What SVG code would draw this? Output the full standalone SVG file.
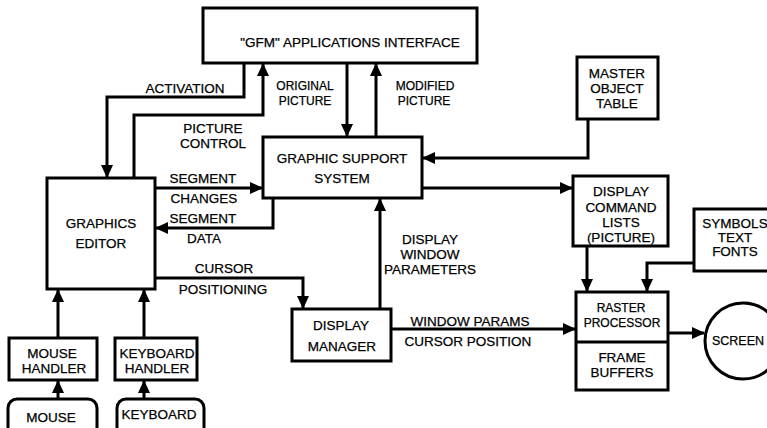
<svg xmlns="http://www.w3.org/2000/svg" width="767" height="428" viewBox="0 0 767 428">
<style>
.box{fill:#fff;stroke:#000;stroke-width:3}
.ln{fill:none;stroke:#000;stroke-width:3;marker-end:url(#ah)}
text{font-family:"Liberation Sans",Arial,sans-serif;font-size:13.5px;fill:#000;stroke:#000;stroke-width:0.25;text-anchor:middle;dominant-baseline:central}
text.s{font-size:12px}
</style>
<defs>
<marker id="ah" markerUnits="userSpaceOnUse" markerWidth="13" markerHeight="12" refX="12" refY="6" orient="auto">
<path d="M0,0 L13,6 L0,12 Z" fill="#000"/>
</marker>
</defs>
<rect width="767" height="428" fill="#fff"/>
<g id="connectors">
<path class="ln" d="M244,63 V97 H107 V177"/>
<path class="ln" d="M134,178 V115 H263 V64"/>
<path class="ln" d="M347,63 V136"/>
<path class="ln" d="M376,137 V64"/>
<path class="ln" d="M588,119 V158 H423"/>
<path class="ln" d="M155,188 H262"/>
<path class="ln" d="M273,198 V228 H156"/>
<path class="ln" d="M155,278 H303 V308"/>
<path class="ln" d="M380,309 V199"/>
<path class="ln" d="M422,188 H572"/>
<path class="ln" d="M587,246 V291"/>
<path class="ln" d="M694,263 H647 V291"/>
<path class="ln" d="M391,329 H575"/>
<path class="ln" d="M668,333 H704"/>
<path class="ln" d="M58,338 V290"/>
<path class="ln" d="M144,338 V290"/>
<path class="ln" d="M58,399 V381"/>
<path class="ln" d="M144,399 V381"/>
</g>
<g id="labels">
<text x="185" y="88">ACTIVATION</text>
<text class="s" x="305" y="86">ORIGINAL</text>
<text class="s" x="305" y="101">PICTURE</text>
<text class="s" x="425" y="86">MODIFIED</text>
<text class="s" x="424" y="101">PICTURE</text>
<text x="213" y="128">PICTURE</text>
<text x="213" y="143">CONTROL</text>
<text x="203" y="178">SEGMENT</text>
<text x="204" y="198">CHANGES</text>
<text x="203" y="218">SEGMENT</text>
<text x="204" y="238">DATA</text>
<text x="224" y="268">CURSOR</text>
<text x="223" y="289">POSITIONING</text>
<text x="430" y="239">DISPLAY</text>
<text x="430" y="254">WINDOW</text>
<text x="430" y="269">PARAMETERS</text>
<text x="470" y="321">WINDOW PARAMS</text>
<text x="468" y="341">CURSOR POSITION</text>
</g>
<g id="gfm">
<rect class="box" x="203" y="8" width="274" height="55"/>
<text x="350" y="42">"GFM" APPLICATIONS INTERFACE</text>
</g>
<g id="gss">
<rect class="box" x="263" y="137" width="159" height="61"/>
<text x="342" y="158">GRAPHIC SUPPORT</text>
<text x="342" y="178">SYSTEM</text>
</g>
<g id="mot">
<rect class="box" x="577" y="57" width="81" height="62"/>
<text x="617" y="73">MASTER</text>
<text x="617" y="88">OBJECT</text>
<text x="617" y="103">TABLE</text>
</g>
<g id="editor">
<rect class="box" x="47" y="178" width="108" height="111"/>
<text x="101" y="223">GRAPHICS</text>
<text x="101" y="243">EDITOR</text>
</g>
<g id="dcl">
<rect class="box" x="573" y="176" width="95" height="70"/>
<text x="621" y="191">DISPLAY</text>
<text x="621" y="207">COMMAND</text>
<text x="621" y="222">LISTS</text>
<text x="621" y="237">(PICTURE)</text>
</g>
<g id="symbols">
<rect class="box" x="694" y="209" width="80" height="62"/>
<text x="735" y="223">SYMBOLS</text>
<text x="735" y="237">TEXT</text>
<text x="735" y="251">FONTS</text>
</g>
<g id="manager">
<rect class="box" x="292" y="309" width="99" height="52"/>
<text x="341" y="325">DISPLAY</text>
<text x="342" y="346">MANAGER</text>
</g>
<g id="raster">
<rect class="box" x="576" y="292" width="92" height="98"/>
<line x1="576" y1="342" x2="668" y2="342" stroke="#000" stroke-width="3"/>
<text class="s" x="621" y="308">RASTER</text>
<text class="s" x="622" y="323">PROCESSOR</text>
<text x="622" y="357">FRAME</text>
<text x="622" y="372">BUFFERS</text>
</g>
<g id="screen">
<circle class="box" cx="743" cy="341" r="38"/>
<text x="738" y="341" style="font-size:12.5px">SCREEN</text>
</g>
<g id="mousehandler">
<rect class="box" x="9" y="338" width="88" height="42"/>
<text x="52" y="353">MOUSE</text>
<text x="54" y="368">HANDLER</text>
</g>
<g id="keyboardhandler">
<rect class="box" x="115" y="338" width="82" height="42"/>
<text x="157" y="353">KEYBOARD</text>
<text x="157" y="368">HANDLER</text>
</g>
<g id="mouse">
<rect class="box" x="8" y="399" width="89" height="40" rx="9"/>
<text x="51" y="417">MOUSE</text>
</g>
<g id="keyboard">
<rect class="box" x="117" y="399" width="87" height="40" rx="9"/>
<text x="159" y="414">KEYBOARD</text>
</g>
</svg>
